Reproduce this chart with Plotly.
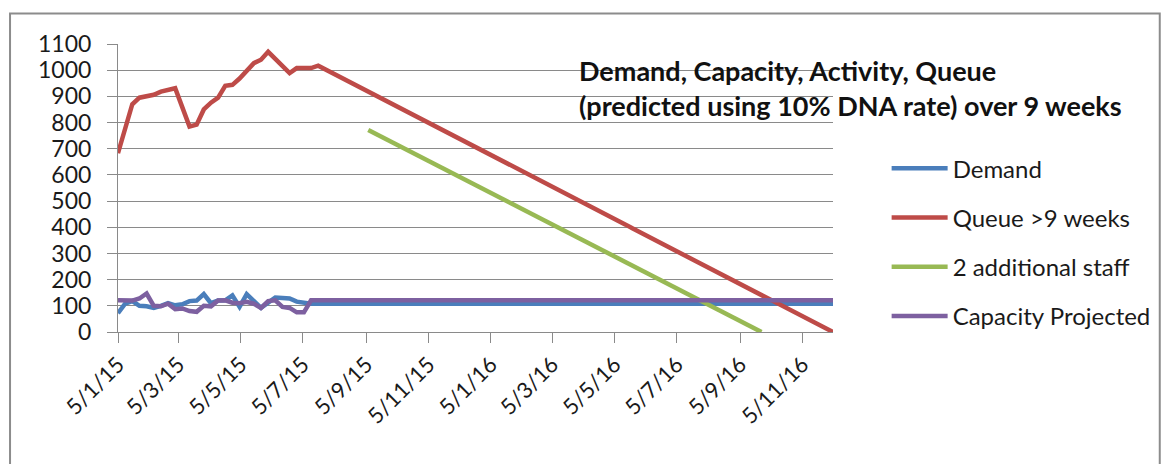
import pandas as pd
import plotly.graph_objects as go

# Weekly series, Mondays from 5 Jan 2015 to 5 Dec 2016
weeks = pd.date_range("2015-01-05", "2016-12-05", freq="7D")

demand = [72, 108, 118, 100, 98, 92, 100, 110, 102, 106, 118, 120, 145, 110,
          120, 121, 140, 96, 145, 118, 92, 112, 132, 130, 128, 116, 110] + [108] * 74

capacity_projected = [121, 120, 120, 128, 147, 100, 98, 108, 87, 90, 80, 77, 100, 98,
                      120, 121, 112, 110, 115, 108, 92, 118, 121, 96, 92, 75, 75] + [121] * 74

queue = [683, 780, 870, 895, 900, 906, 918, 925, 931, 858, 785, 792, 850, 876,
         895, 940, 944, 968, 1000, 1027, 1040, 1070, 1043, 1016, 989, 1008, 1008, 1008,
         1017, 1003, 989, 975, 961, 946, 932, 918, 904, 890, 876, 862, 847, 833,
         819, 805, 791, 777, 763, 749, 734, 720, 706, 692, 678, 664, 650, 636,
         621, 607, 593, 579, 565, 551, 537, 523, 508, 494, 480, 466, 452, 438,
         424, 410, 395, 381, 367, 353, 339, 325, 311, 297, 282, 268, 254, 240,
         226, 212, 198, 184, 169, 155, 141, 127, 113, 99, 85, 71, 56, 42, 28, 14, 0]

additional_staff = [None] * 35 + [
    772, 758, 744, 730, 716, 702, 688, 674, 660, 646, 632, 618, 604, 590,
    575, 561, 547, 533, 519, 505, 491, 477, 463, 449, 435, 421, 407, 393,
    379, 365, 351, 337, 323, 309, 295, 281, 267, 253, 239, 225, 211, 197,
    183, 168, 154, 140, 126, 112, 98, 84, 70, 56, 42, 28, 14, 0]

tick_dates = ["2015-01-05", "2015-03-05", "2015-05-05", "2015-07-05", "2015-09-05",
              "2015-11-05", "2016-01-05", "2016-03-05", "2016-05-05", "2016-07-05",
              "2016-09-05", "2016-11-05"]
tick_labels = ["5/1/15", "5/3/15", "5/5/15", "5/7/15", "5/9/15", "5/11/15",
               "5/1/16", "5/3/16", "5/5/16", "5/7/16", "5/9/16", "5/11/16"]

series = [
    ("Demand", demand, "#4A7EBB"),
    ("Queue >9 weeks", queue, "#BE4B48"),
    ("2 additional staff", additional_staff, "#98B954"),
    ("Capacity Projected", capacity_projected, "#7D60A0"),
]

FONT = "Lato"
GRID = "#8A8A8A"

fig = go.Figure()
for i, (name, values, color) in enumerate(series):
    fig.add_trace(go.Scatter(
        x=weeks, y=values, name=name, mode="lines",
        line=dict(color=color, width=4.5),
        legendgroup=f"g{i}",
    ))

fig.update_layout(
    width=1170, height=464,
    margin=dict(l=118, r=337, t=44, b=132),
    paper_bgcolor="white", plot_bgcolor="white",
    font=dict(family=FONT, color="#1a1a1a", size=22),
    showlegend=True,
    legend=dict(
        x=1.075, y=0.645, xanchor="left", yanchor="top",
        font=dict(family=FONT, size=24, color="#1a1a1a"),
        tracegroupgap=15, itemwidth=56, bgcolor="rgba(0,0,0,0)",
    ),
    xaxis=dict(
        type="date",
        range=["2015-01-05", "2016-12-05"],
        tickvals=tick_dates, ticktext=tick_labels,
        tickangle=-45,
        ticks="outside", ticklen=10, tickcolor=GRID, tickwidth=1,
        showgrid=False, zeroline=False,
        showline=True, linecolor=GRID, linewidth=1,
        tickfont=dict(family=FONT, size=22, color="#1a1a1a"),
    ),
    yaxis=dict(
        range=[0, 1100], dtick=100, tick0=0,
        ticks="outside", ticklen=10, tickcolor=GRID, tickwidth=1,
        showgrid=True, gridcolor=GRID, gridwidth=1,
        zeroline=False,
        showline=True, linecolor=GRID, linewidth=1,
        tickfont=dict(family=FONT, size=23, color="#1a1a1a"),
        ticklabelstandoff=11,
    ),
    annotations=[dict(
        xref="paper", yref="paper", x=0.642, y=0.848,
        xanchor="left", yanchor="middle", align="left", showarrow=False,
        text="<b>Demand, Capacity, Activity, Queue</b><br>"
             "<b>(predicted using 10% DNA rate) over 9 weeks</b>",
        font=dict(family=FONT, size=27, color="#111111"),
    )],
    shapes=[dict(
        type="rect", xref="paper", yref="paper",
        x0=-0.151, x1=1.457, y0=-0.6, y1=1.1055,
        line=dict(color="#8C8C8C", width=2), fillcolor="rgba(0,0,0,0)",
        layer="below",
    )],
)

fig.write_html("out.html")
